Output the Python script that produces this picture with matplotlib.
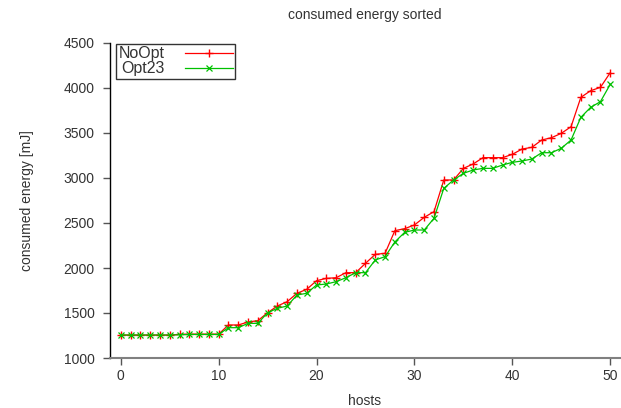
import matplotlib
matplotlib.use("Agg")
import matplotlib.pyplot as plt

plt.rcParams['font.family'] = ['Liberation Sans', 'DejaVu Sans']

title = "consumed energy sorted"
xlabel = "hosts"
ylabel = "consumed energy [mJ]"
hosts = list(range(51))
noopt = [1255, 1255, 1255, 1255, 1255, 1255, 1262, 1265, 1265, 1265, 1265,
         1367, 1367, 1400, 1415, 1503, 1578, 1626, 1719, 1763, 1859,
         1885, 1892, 1948, 1948, 2052, 2152, 2163, 2415, 2437, 2478,
         2563, 2626, 2978, 2978, 3107, 3156, 3226, 3226, 3226, 3263,
         3322, 3341, 3422, 3448, 3496, 3570, 3896, 3970, 4007, 4170]
opt23 = [1255, 1255, 1255, 1255, 1255, 1255, 1258, 1262, 1262, 1262, 1262,
         1337, 1337, 1385, 1385, 1503, 1552, 1578, 1700, 1719, 1811,
         1822, 1848, 1892, 1948, 1948, 2089, 2126, 2289, 2396, 2422,
         2422, 2552, 2885, 2978, 3052, 3089, 3107, 3107, 3144, 3174,
         3189, 3211, 3281, 3281, 3330, 3422, 3674, 3785, 3848, 4040]
xticks = [0, 10, 20, 30, 40, 50]
yticks = [1000, 1500, 2000, 2500, 3000, 3500, 4000, 4500]

W, H = 621, 408
fig = plt.figure(figsize=(W / 100, H / 100), dpi=100)
ax = fig.add_axes([110 / W, 1 - 358 / H, 510 / W, (358 - 43) / H])

ax.plot(hosts, noopt, color='#ff0000', lw=0.9, marker='+', ms=6, mew=1.0, label='NoOpt')
ax.plot(hosts, opt23, color='#00c000', lw=0.9, marker='x', ms=4.5, mew=0.9, label='Opt23')

ax.set_xlim(-1.1, 51)
ax.set_ylim(1000, 4500)
ax.set_xticks(xticks)
ax.set_yticks(yticks)
tc = '#333333'
ax.tick_params(axis='both', direction='out', length=5, width=1, labelsize=10, labelcolor=tc, colors='#555555')
ax.tick_params(axis='x', pad=3)
ax.tick_params(axis='y', pad=6)
ax.spines['top'].set_visible(False)
ax.spines['right'].set_visible(False)
ax.spines['left'].set_color('black')
ax.spines['left'].set_linewidth(1.0)
ax.spines['bottom'].set_color('#808080')
ax.spines['bottom'].set_linewidth(1.5)

ax.set_title(title, fontsize=10, color=tc, pad=17)
ax.set_xlabel(xlabel, fontsize=10, color=tc, labelpad=8)
ax.set_ylabel(ylabel, fontsize=10, color=tc, labelpad=21)

leg = ax.legend(loc='upper left', bbox_to_anchor=(116 / W, 1 - 44 / H), bbox_transform=fig.transFigure,
                markerfirst=False, fontsize=11.5, frameon=True, fancybox=False, borderpad=0.15,
                handlelength=3.0, handletextpad=1.3, labelspacing=0.0, borderaxespad=0)
leg.get_frame().set_edgecolor('black')
leg.get_frame().set_linewidth(1.0)
for t in leg.get_texts():
    t.set_color(tc)

fig.savefig('out.png', dpi=100)
